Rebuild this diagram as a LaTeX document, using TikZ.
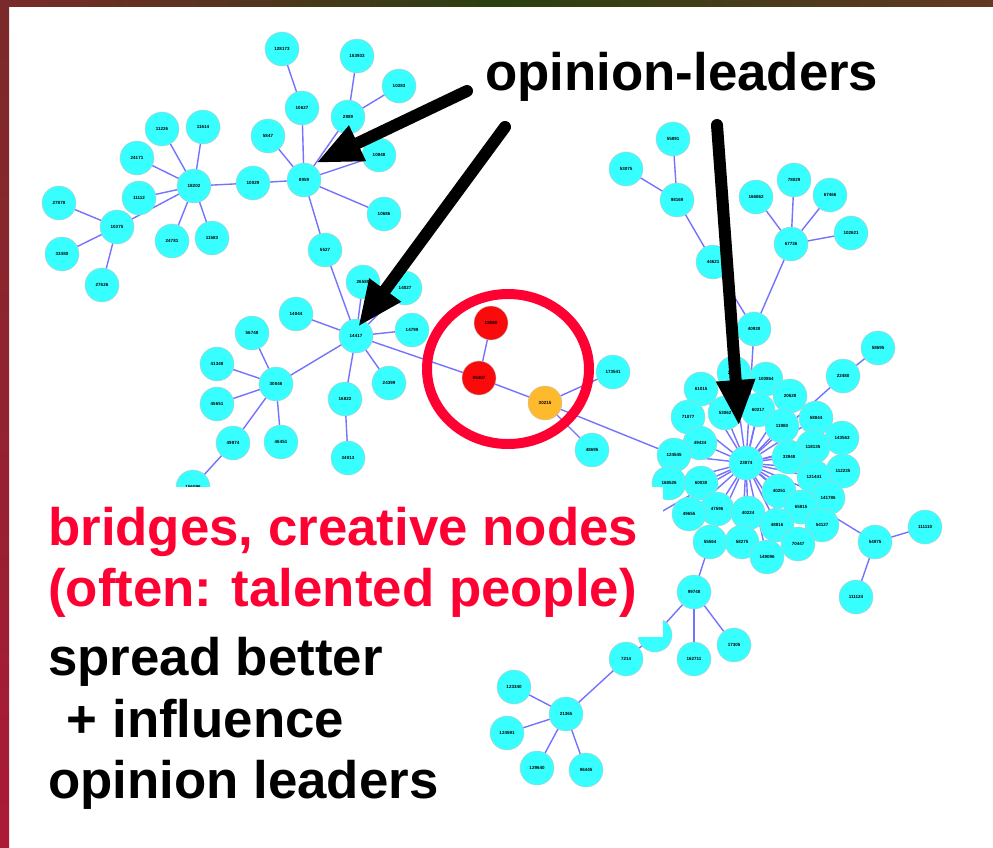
\documentclass[tikz,border=0pt]{standalone}
\usepackage{fontspec}
\setmainfont{Liberation Sans}
\usetikzlibrary{arrows.meta,shapes.geometric}
\pgfdeclarelayer{bottom}
\pgfdeclarelayer{edges}
\pgfsetlayers{bottom,edges,main}
\definecolor{cyanN}{RGB}{55,255,255}
\definecolor{redN}{RGB}{250,10,10}
\definecolor{orangeN}{RGB}{255,185,45}
\definecolor{redT}{RGB}{255,0,51}
\definecolor{edgeC}{RGB}{115,115,255}
\definecolor{frameA}{RGB}{122,42,42}
\definecolor{frameB}{RGB}{42,64,16}
\definecolor{frameC}{RGB}{100,56,34}
\definecolor{frameD}{RGB}{172,26,54}
\tikzset{
  nd/.style={circle,minimum size=34pt,inner sep=0pt,fill=cyanN,draw=gray!45,line width=0.4pt,
     font=\fontsize{4.5}{5}\selectfont\bfseries},
  rd/.style={nd,fill=redN},
  od/.style={nd,fill=orangeN},
  ed/.style={draw=edgeC,line width=1.4pt},
  ringstyle/.style={ellipse,draw=redT,line width=10pt,minimum width=162pt,minimum height=150pt,inner sep=0pt},
  bigarrow/.style={draw=black,line width=12pt,line cap=round,-{Triangle[length=46pt 0 0,width=36pt 0 0]}},
  bigtxt/.style={anchor=base west,inner sep=0pt,font=\fontsize{52.8}{60}\selectfont\bfseries}
}
\begin{document}
\begin{tikzpicture}[x=1pt,y=-1pt]
\useasboundingbox (0,0) rectangle (993,847);
\begin{pgfonlayer}{bottom}
\fill[white] (0,0) rectangle (993,847);
\end{pgfonlayer}
% ---------- nodes
\foreach \n/\x/\y in {128173/282/49,153933/357/56,10283/399/86,2889/348/117,10627/302/108,5847/268/136,
  10848/379/155,8959/304/180,10686/384/214,5527/325/250,10029/253/183,18202/194/186,11226/162/129,
  11614/203/127,24171/137/158,11112/139/198,24781/172/241,11583/212/238,10375/117/227,27878/59/203,
  33480/62/254,27626/102/285,
  26580/363/282,14027/405/288,14044/296/314,14417/356/336,14799/412/330,56748/252/333,41348/217/364,
  30046/276/384,45651/217/404,49874/233/443,46451/281/442,16822/345/399,24399/389/383,34013/348/458,
  156096/193/487,
  173541/613/372,48695/592/450,
  55891/673/139,53075/626/169,98169/677/200,44621/713/262,166862/756/197,78029/794/180,67466/830/195,
  102621/851/233,67736/791/244,40938/754/329,58695/878/348,22480/843/376,
  54975/875/542,111110/925/527,111124/856/597,
  99748/694/592,47280/655/635,162711/694/659,17305/734/645,7214/626/659,21365/566/714,123340/514/687,
  124591/507/733,129640/537/768,96445/586/770}
  {\node[nd] (a\n) at (\x,\y) {\n};}
\node[rd] (a18590) at (491,323) {18590};
\node[rd] (a95407) at (479,378) {95407};
\node[od] (a30215) at (545,403) {30215};
% ---------- dense cluster
\foreach \n/\x/\y in {100864/766/379,29461/734/373,61015/701/389,20628/790/396,53062/725/413,60217/758/410,
  71077/688/417,58844/816/418,11980/782/426,143563/842/438,49434/700/443,118135/813/447,124545/674/455,
  33948/789/457,112235/843/471,121441/814/477,168526/669/483,60030/701/483,40251/779/491,141786/828/498,
  47596/717/509,40224/748/513,49655/689/514,65815/801/507,54127/822/525,48816/777/525,55564/710/542,
  58275/742/542,70447/798/544,149096/767/557}
  {\node[nd] (a\n) at (\x,\y) {\n};}
\node[nd] (a23874) at (746,463) {23874};
\coordinate (hidden) at (628,531);
% ---------- edges
\begin{pgfonlayer}{edges}
\foreach \a/\b in {128173/10627,153933/2889,10283/2889,2889/8959,10627/8959,5847/8959,10848/8959,10686/8959,
  5527/8959,10029/8959,10029/18202,18202/11226,18202/11614,18202/24171,18202/11112,18202/24781,18202/11583,
  18202/10375,10375/27878,10375/33480,10375/27626,
  5527/14417,14417/26580,14417/14027,14417/14044,14417/14799,14417/30046,14417/16822,14417/24399,14417/95407,
  16822/34013,30046/56748,30046/41348,30046/45651,30046/49874,30046/46451,49874/156096,
  18590/95407,95407/30215,30215/173541,30215/48695,30215/124545,
  55891/98169,53075/98169,98169/44621,44621/40938,67736/166862,67736/78029,67736/67466,67736/102621,
  67736/40938,40938/23874,58695/22480,22480/23874,
  23874/100864,23874/29461,23874/61015,23874/20628,23874/53062,23874/60217,23874/71077,23874/58844,
  23874/11980,23874/143563,23874/49434,23874/118135,23874/124545,23874/33948,23874/112235,23874/121441,
  23874/168526,23874/60030,23874/40251,23874/141786,23874/47596,23874/40224,23874/49655,23874/65815,
  23874/54127,23874/48816,23874/55564,23874/58275,23874/70447,23874/149096,23874/54975,
  54975/111110,54975/111124,
  55564/99748,99748/47280,99748/162711,99748/17305,47280/7214,7214/21365,21365/123340,21365/124591,
  21365/129640,21365/96445}
  {\draw[ed] (a\a.center) -- (a\b.center);}
\draw[ed] (a23874.center) -- (hidden);
\end{pgfonlayer}
% ---------- red ring
\node[ringstyle] (ring) at (508,369) {};
% ---------- white panel behind text
\fill[white] (10,487) rectangle (663,637);
% ---------- arrows
\coordinate (s1) at (467,91);  \coordinate (t1) at (316,163);
\coordinate (s2) at (505,127); \coordinate (t2) at (358,327);
\coordinate (s3) at (717,125); \coordinate (t3) at (739,426);
\draw[bigarrow] (s1) -- (t1);
\draw[bigarrow] (s2) -- (t2);
\draw[bigarrow] (s3) -- (t3);
% ---------- texts
\node[bigtxt] (tl) at (485,90) {opinion-leaders};
\node[bigtxt,text=redT] (r1) at (48,545) {bridges, creative nodes};
\node[bigtxt,text=redT] (r2) at (48,606) {(often: talented people)};
\node[bigtxt] (b1) at (48,675) {spread better};
\node[bigtxt] (b2) at (52,737) {\ + influence};
\node[bigtxt] (b3) at (48,798) {opinion leaders};
% ---------- frame
\shade[left color=frameA,right color=frameC,middle color=frameB] (0,0) rectangle (993,6);
\shade[top color=frameA,bottom color=frameD] (0,0) rectangle (9,847);
\end{tikzpicture}
\end{document}
